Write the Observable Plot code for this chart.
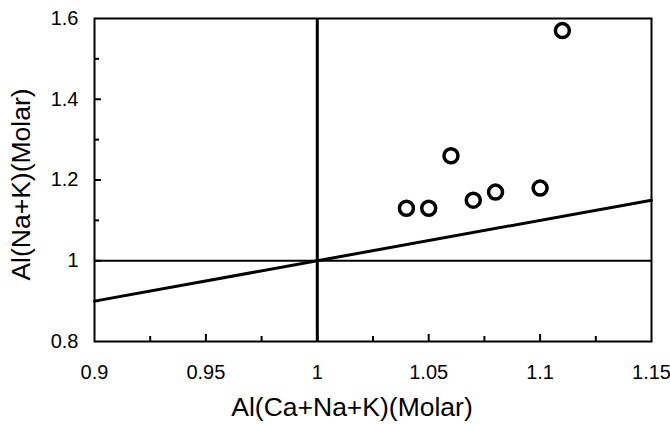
<!DOCTYPE html>
<html><head><meta charset="utf-8">
<script src="https://cdn.jsdelivr.net/npm/d3@7"></script>
<script src="https://cdn.jsdelivr.net/npm/@observablehq/plot@0.6"></script>
<style>body{margin:0;background:#fff}</style>
</head><body><div id="chart"></div>
<script>
// data
const xValues = [1.04, 1.05, 1.06, 1.07, 1.08, 1.10, 1.11];
const yValues = [1.13, 1.13, 1.26, 1.15, 1.17, 1.18, 1.57];
const xTickLabels = [0.9, 0.95, 1, 1.05, 1.1, 1.15];
const yTickLabels = [0.8, 1, 1.2, 1.4, 1.6];
const xMajorTicks = [0.95, 1, 1.05, 1.1];
const xMinorTicks = [0.925, 0.975, 1.025, 1.075, 1.125];
const yMajorTicks = [1, 1.2, 1.4];
const yMinorTicks = [0.9, 1.1, 1.3, 1.5];
const diagX = [0.9, 1.15];
const diagY = [0.9, 1.15];
const crossX = [1];
const crossY = [1];
const xDomain = [0.9, 1.15];
const yDomain = [0.8, 1.6];
const xLabel = "Al(Ca+Na+K)(Molar)";
const yLabel = "Al(Na+K)(Molar)";

// layout
const W = 670, H = 424, mL = 94, mR = 19, mT = 18, mB = 83;
const innerW = W - mL - mR, innerH = H - mT - mB;

const points = xValues.map((x, i) => ({x, y: yValues[i]}));
const diag = diagX.map((x, i) => ({x, y: diagY[i]}));
const fmt = d => String(d);

const chart = Plot.plot({
  width: W, height: H,
  marginLeft: mL, marginRight: mR, marginTop: mT, marginBottom: mB,
  style: {fontFamily: "'Liberation Sans', Arial, sans-serif", color: "black", background: "white"},
  x: {domain: xDomain},
  y: {domain: yDomain},
  marks: [
    Plot.axisX(xTickLabels, {tickSize: 0, tickPadding: 23, tickFormat: fmt, fontSize: 20, label: null}),
    Plot.axisY(yTickLabels, {tickSize: 0, tickPadding: 16, tickFormat: fmt, fontSize: 20, label: null}),
    Plot.ruleX(xMajorTicks, {x: d => d, insetTop: innerH - 7, strokeWidth: 2}),
    Plot.ruleX(xMinorTicks, {x: d => d, insetTop: innerH - 5, strokeWidth: 2}),
    Plot.ruleY(yMajorTicks, {y: d => d, insetRight: innerW - 7, strokeWidth: 2}),
    Plot.ruleY(yMinorTicks, {y: d => d, insetRight: innerW - 5, strokeWidth: 2}),
    Plot.ruleY(crossY, {y: d => d, strokeWidth: 2}),
    Plot.ruleX(crossX, {x: d => d, strokeWidth: 3}),
    Plot.line(diag, {x: "x", y: "y", strokeWidth: 3, stroke: "black"}),
    Plot.frame({strokeWidth: 2}),
    Plot.dot(points, {x: "x", y: "y", r: 7, stroke: "black", strokeWidth: 3.5, fill: "white"}),
    Plot.text([xLabel], {text: d => d, frameAnchor: "bottom", textAnchor: "middle", dx: -21, dy: 66, lineAnchor: "middle", fontSize: 26.5}),
    Plot.text([yLabel], {text: d => d, frameAnchor: "left", textAnchor: "middle", rotate: -90, dx: -73, dy: 4.5, lineAnchor: "middle", fontSize: 26.5})
  ]
});
document.getElementById("chart").appendChild(chart);
</script>
</body></html>
